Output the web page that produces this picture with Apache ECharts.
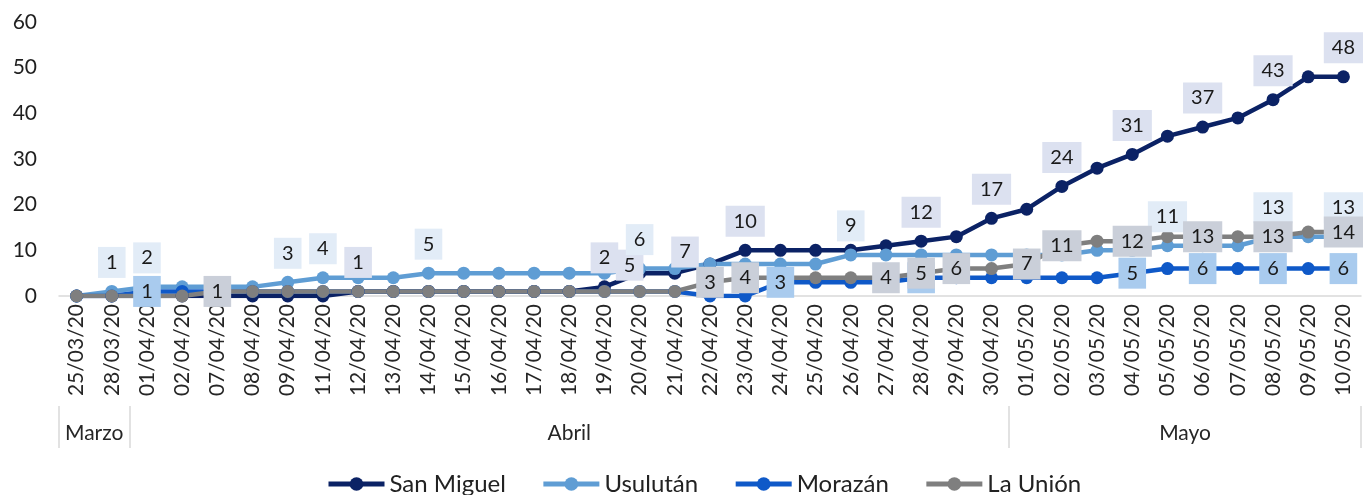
<!DOCTYPE html>
<html>
<head>
<meta charset="utf-8">
<script src="https://cdn.jsdelivr.net/npm/echarts@6/dist/echarts.min.js"></script>
<style>
  html, body { margin: 0; padding: 0; background: #fff; }
  #main { width: 1368px; height: 495px; }
</style>
</head>
<body>
<div id="main"></div>
<script>
// categories
const dates = ['25/03/20', '28/03/20', '01/04/20', '02/04/20', '07/04/20', '08/04/20', '09/04/20', '11/04/20',
  '12/04/20', '13/04/20', '14/04/20', '15/04/20', '16/04/20', '17/04/20', '18/04/20', '19/04/20', '20/04/20',
  '21/04/20', '22/04/20', '23/04/20', '24/04/20', '25/04/20', '26/04/20', '27/04/20', '28/04/20', '29/04/20',
  '30/04/20', '01/05/20', '02/05/20', '03/05/20', '04/05/20', '05/05/20', '06/05/20', '07/05/20', '08/05/20',
  '09/05/20', '10/05/20'];
const months = ['Marzo', 'Abril', 'Mayo'];
const monthCounts = [2, 25, 10];

// series values
const sanMiguel = [0, 0, 0, 0, 0, 0, 0, 0, 1, 1, 1, 1, 1, 1, 1, 2, 5, 5, 7, 10, 10, 10, 10, 11, 12, 13, 17, 19, 24, 28, 31, 35, 37, 39, 43, 48, 48];
const usulutan = [0, 1, 2, 2, 2, 2, 3, 4, 4, 4, 5, 5, 5, 5, 5, 5, 6, 6, 7, 7, 7, 7, 9, 9, 9, 9, 9, 9, 9, 10, 10, 11, 11, 11, 13, 13, 13];
const morazan = [0, 0, 1, 1, 1, 1, 1, 1, 1, 1, 1, 1, 1, 1, 1, 1, 1, 1, 0, 0, 3, 3, 3, 3, 4, 4, 4, 4, 4, 4, 5, 6, 6, 6, 6, 6, 6];
const laUnion = [0, 0, 0, 0, 1, 1, 1, 1, 1, 1, 1, 1, 1, 1, 1, 1, 1, 1, 3, 4, 4, 4, 4, 4, 5, 6, 6, 7, 11, 12, 12, 13, 13, 13, 13, 14, 14];

// which points carry a data label
const smLabels = [8, 15, 16, 18, 19, 24, 26, 28, 30, 32, 34, 36];
const usLabels = [1, 2, 6, 7, 10, 16, 22, 31, 34, 36];
const moLabels = [2, 20, 24, 30, 32, 34, 36];
const luLabels = [4, 18, 19, 23, 24, 25, 27, 28, 30, 32, 34, 36];

const yTicks = { min: 0, max: 60, interval: 10 };

// month group edges / centres on the category scale
const edges = [-0.5];
monthCounts.forEach(c => edges.push(edges[edges.length - 1] + c));
const centers = months.map((m, k) => (edges[k] + edges[k + 1]) / 2);

const font = 'Lato';
const defs = [
  { name: 'San Miguel', data: sanMiguel, color: '#0b2265', box: '#dce1f0', labels: smLabels, above: true, shift: { 16: [-10, -8], 18: [-25, -12] } },
  { name: 'Usulután', data: usulutan, color: '#5f9dd4', box: '#e2ecf7', labels: usLabels, above: true, shift: {} },
  { name: 'Morazán', data: morazan, color: '#0f59c8', box: '#a9cbee', labels: moLabels, above: false, shift: {} },
  { name: 'La Unión', data: laUnion, color: '#7f7f7f', box: '#cacfd9', labels: luLabels, above: false, shift: {} }
];

const series = [];
defs.forEach(d => {
  series.push({
    name: d.name,
    type: 'line',
    data: d.data,
    z: 2,
    symbol: 'circle',
    symbolSize: 13,
    showAllSymbol: true,
    lineStyle: { width: 4.5, color: d.color },
    itemStyle: { color: d.color },
    emphasis: { disabled: true }
  });
});
// label layer drawn above every line
defs.forEach(d => {
  series.push({
    name: d.name + '_lbl',
    type: 'line',
    z: 5,
    silent: true,
    symbol: 'circle',
    symbolSize: 1,
    showAllSymbol: true,
    lineStyle: { opacity: 0 },
    itemStyle: { color: 'rgba(0,0,0,0)' },
    emphasis: { disabled: true },
    label: {
      show: false,
      position: 'inside',
      offset: d.above ? [0, -29] : [0, 0],
      color: '#1a1a1a',
      fontFamily: font,
      fontSize: 20,
      lineHeight: 20,
      backgroundColor: d.box,
      padding: [6, 8, 5, 8]
    },
    data: d.data.map((v, i) => {
      if (d.labels.indexOf(i) < 0) return v;
      const lab = { show: true };
      if (d.shift[i]) lab.offset = d.shift[i];
      return { value: v, label: lab };
    })
  });
});

const chart = echarts.init(document.getElementById('main'));
chart.setOption({
  animation: false,
  textStyle: { fontFamily: font },
  grid: { left: 59, right: 7, top: 22, bottom: 199, containLabel: false },
  legend: {
    data: defs.map(d => d.name),
    top: 467,
    left: 321,
    itemWidth: 56,
    itemHeight: 17,
    itemGap: 35,
    lineStyle: { width: 5 },
    textStyle: { fontSize: 24, color: '#222', fontFamily: font }
  },
  xAxis: [
    {
      type: 'category',
      data: dates,
      boundaryGap: true,
      axisLine: { lineStyle: { color: '#d9d9d9', width: 1.5 } },
      axisTick: { interval: 0, length: 110, lineStyle: { color: '#d9d9d9', width: 1.5 } },
      axisLabel: { interval: 0, rotate: 90, margin: 8, fontSize: 21, color: '#262626', fontFamily: font }
    },
    {
      type: 'value',
      position: 'bottom',
      offset: 110,
      min: edges[0],
      max: edges[edges.length - 1],
      splitLine: { show: false },
      axisLine: { show: false },
      axisTick: { show: true, customValues: edges, length: 42, lineStyle: { color: '#d9d9d9', width: 1.5 } },
      axisLabel: {
        customValues: centers,
        margin: 17,
        fontSize: 21,
        color: '#262626',
        fontFamily: font,
        formatter: v => {
          const k = centers.findIndex(c => Math.abs(c - v) < 0.01);
          return k >= 0 ? months[k] : '';
        }
      }
    }
  ],
  yAxis: {
    type: 'value',
    min: yTicks.min,
    max: yTicks.max,
    interval: yTicks.interval,
    axisLine: { show: false },
    axisTick: { show: false },
    splitLine: { show: false },
    axisLabel: { margin: 22, fontSize: 21, color: '#1f1f1f', fontFamily: font }
  },
  series: series
});
</script>
</body>
</html>
